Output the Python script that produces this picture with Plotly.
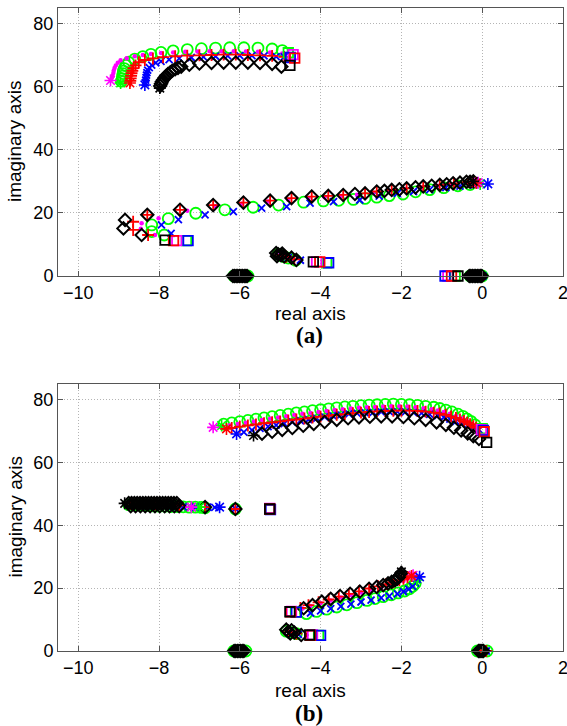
import plotly.graph_objects as go

# ---------------- Panel (a) data ----------------
a_green_x = [-8.93,-8.91,-8.9,-8.89,-8.88,-8.86,-8.82,-8.75,-8.6,-8.4,-8.2,-7.95,-7.65,-7.3,-6.95,-6.6,-6.25,-5.9,-5.55,-5.2,-4.95,
             -0.3,-0.6,-0.95,-1.3,-1.65,-1.96,-2.3,-2.61,-2.9,-3.19,-3.55,-3.93,-4.42,-5.04,-5.67,-6.37,-7.09,-7.77,-8.18,-8.18,-7.87,
             -5.05,-4.98,-4.9,-4.8,-4.62,
             -6.15,-6.0,-5.85,-5.8,-0.3,-0.15,0.0]
a_green_y = [61.8,62.6,63.4,64.2,65.0,65.8,66.8,67.8,68.8,69.6,70.3,70.9,71.4,71.8,72.1,72.3,72.4,72.4,72.3,72.0,71.5,
             29.0,28.6,28.0,27.4,26.7,26.0,25.5,25.0,24.6,24.3,24.0,23.8,23.4,22.5,21.8,21.0,19.9,18.2,16.2,14.1,13.0,
             6.9,6.5,6.1,5.7,5.0,
             0,0,0,0,0,0,0]
a_green_start_x = [-8.95,-0.05]
a_green_start_y = [61.2,29.2]
a_green_end_x = [-4.8,-7.32,-3.85,-0.67]
a_green_end_y = [70.8,11.2,4.2,0]

a_mag_x = [-9.17,-9.15,-9.13,-9.12,-9.1,-9.07,-9.02,-8.95,-8.8,-8.6,-8.4,-8.2,-7.95,-7.65,-7.35,-7.05,-6.75,-6.45,-6.15,-5.85,-5.55,-5.25,-4.95,
           -0.4,-0.75,-1.1,-1.5,-1.9,-2.3,-2.7,-3.1,-3.5,-3.9,-4.3,-4.8,-5.3,-5.95,-6.6,-7.3,-8.01,-8.43,-8.45,-8.1,
           -5.0,-4.9,-4.7,
           -6.1,-5.95,-0.25,-0.05]
a_mag_y = [62.8,63.6,64.4,65.2,66.0,66.8,67.6,68.4,69.1,69.7,70.1,70.4,70.7,70.9,71.1,71.2,71.3,71.3,71.3,71.2,71.1,70.9,70.6,
           29.6,29.1,28.6,28.1,27.6,27.0,26.4,25.8,25.4,25.0,24.7,24.2,23.6,22.9,22.1,20.7,18.3,16.7,15.0,13.0,
           6.8,6.2,5.5,
           0,0,0,0]
a_mag_start_x = [-9.2,-0.1]
a_mag_start_y = [62.0,29.6]
a_mag_end_x = [-4.68,-7.56,-4.1,-0.85]
a_mag_end_y = [70.2,11.2,4.5,0]

a_red_x = [-8.71,-8.7,-8.69,-8.68,-8.66,-8.63,-8.58,-8.5,-8.35,-8.15,-7.9,-7.6,-7.3,-7.0,-6.7,-6.4,-6.1,-5.8,-5.5,-5.2,-4.9,
           -0.35,-0.7,-1.05,-1.46,-1.87,-2.24,-2.61,-2.9,-3.44,-3.81,-4.22,-4.72,-5.25,-5.91,-6.66,-7.48,-8.29,-8.64,-8.64,-8.27,
           -5.0,-4.85,-4.65,
           -6.05,-5.9,-0.2,0.0]
a_red_y = [61.9,62.7,63.5,64.3,65.1,65.9,66.8,67.8,68.5,69.0,69.4,69.7,69.9,70.0,70.1,70.2,70.2,70.1,70.0,69.8,69.5,
           29.8,29.4,28.9,28.4,27.8,27.3,26.8,26.2,25.7,25.4,25.2,24.7,23.9,23.3,22.5,21.0,19.4,17.2,14.6,13.0,
           6.7,6.1,5.3,
           0,0,0,0]
a_red_start_x = [-8.72,-0.15]
a_red_start_y = [61.2,29.5]
a_red_end_x = [-4.64,-7.64,-4.02,-0.76]
a_red_end_y = [69.1,11.2,4.5,0]

a_blue_x = [-8.34,-8.33,-8.32,-8.31,-8.3,-8.28,-8.24,-8.18,-8.08,-7.95,-7.75,-7.5,-7.2,-6.9,-6.6,-6.3,-6.0,-5.7,-5.4,-5.1,-4.9,
            -0.2,-0.55,-0.9,-1.3,-1.7,-2.1,-2.55,-3.03,-3.68,-4.26,-4.84,-5.46,-6.16,-6.86,-7.52,-7.94,-7.7,
            -4.95,-4.8,-4.5,
            -6.1,-5.95,-0.25,0.02]
a_blue_y = [61.3,62.1,62.9,63.7,64.5,65.3,66.1,66.9,67.6,68.1,68.6,69.0,69.3,69.5,69.7,69.8,69.9,69.9,69.8,69.6,69.5,
            28.9,28.5,28.0,27.4,26.8,26.2,25.3,24.1,23.6,23.1,22.0,21.5,20.4,19.4,17.9,16.2,13.5,
            6.5,5.8,5.0,
            0,0,0,0]
a_blue_start_x = [-8.35,0.14]
a_blue_start_y = [60.6,29.2]
a_blue_end_x = [-4.75,-7.28,-3.8,-0.92]
a_blue_end_y = [69.3,11.2,4.2,0]

a_black_x = [-7.97,-7.95,-7.93,-7.9,-7.86,-7.82,-7.78,-7.72,-7.67,-7.6,-7.53,-7.45,-7.25,-7.0,-6.7,-6.4,-6.1,-5.8,-5.5,-5.2,-4.97,
             -0.22,-0.3,-0.39,-0.55,-0.72,-0.88,-1.05,-1.25,-1.46,-1.65,-1.87,-2.05,-2.24,-2.42,-2.61,-2.9,-3.15,-3.44,-3.81,-4.22,-4.72,-5.25,-5.91,-6.66,-7.48,-8.29,-8.84,-8.88,-8.43,
             -5.1,-5.05,-4.98,-5.08,-4.95,-4.9,-4.72,-4.6,
             -6.17,-6.13,-6.09,-6.05,-6.01,-5.97,-5.93,-5.89,-5.85,-5.82,-0.32,-0.28,-0.24,-0.2,-0.16,-0.12,-0.08,-0.04,-0.01]
a_black_y = [60.3,61.0,61.6,62.2,62.9,63.5,64.0,64.6,65.1,65.6,66.0,66.4,67.0,67.4,67.6,67.7,67.7,67.7,67.6,67.3,66.4,
             30.0,29.9,29.9,29.6,29.4,29.1,28.9,28.6,28.4,28.1,27.8,27.5,27.3,27.0,26.8,26.2,26.0,25.7,25.4,25.2,24.7,23.9,23.3,22.5,21.0,19.4,17.8,15.1,13.0,
             7.3,6.9,6.6,6.3,7.1,6.2,5.8,5.1,
             0,0,0,0,0,0,0,0,0,0,0,0,0,0,0,0,0,0,0]
a_black_start_x = [-7.98,-0.22]
a_black_start_y = [59.6,30.0]
a_black_end_x = [-4.76,-7.85,-4.18,-0.6]
a_black_end_y = [66.8,11.4,4.5,0]

# ---------------- Panel (b) data ----------------
b_green_x = [-6.4,-6.2,-6.0,-5.8,-5.6,-5.4,-5.2,-5.0,-4.8,-4.6,-4.4,-4.2,-4.0,-3.8,-3.6,-3.4,-3.2,-3.0,-2.8,-2.6,-2.4,-2.2,-2.0,-1.8,-1.6,-1.4,-1.2,-1.05,-0.9,-0.75,-0.6,-0.48,-0.38,-0.28,-0.18,
             -8.75,-8.6,-8.45,-8.3,-8.15,-8.0,-7.85,-7.7,-7.55,-7.4,-7.25,-7.1,-6.95,-6.86,-6.11,
             -1.66,-1.72,-1.8,-1.92,-2.08,-2.25,-2.45,-2.65,-2.85,-3.1,-3.35,-3.6,-3.85,-4.1,-4.35,
             -4.85,-4.75,-4.6,
             -6.15,-6.0,-5.85,-0.12,0.02,0.12]
b_green_y = [72.2,72.6,73.0,73.4,73.8,74.2,74.6,75.0,75.4,75.8,76.1,76.5,76.8,77.1,77.4,77.7,77.9,78.1,78.3,78.4,78.5,78.6,78.5,78.4,78.2,77.9,77.6,77.2,76.7,76.1,75.4,74.7,73.9,73.1,72.0,
             46.6,46.5,46.4,46.3,46.2,46.1,46.1,46.0,46.0,45.9,45.8,45.8,45.7,45.6,45.2,
             21.5,20.6,19.8,19.1,18.5,17.9,17.3,16.7,16.1,15.4,14.7,14.0,13.3,12.6,11.9,
             6.3,5.9,5.5,
             0,0,0,0,0,0]
b_green_start_x = [-6.45,-7.0,-1.62]
b_green_start_y = [71.8,45.8,22.6]
b_green_end_x = [0.0,-5.26,-4.62,-4.05]
b_green_end_y = [70.8,45.2,12.4,5.0]

b_mag_x = [-6.45,-6.25,-6.05,-5.85,-5.65,-5.45,-5.25,-5.05,-4.85,-4.65,-4.45,-4.25,-4.05,-3.85,-3.65,-3.45,-3.25,-3.05,-2.85,-2.65,-2.45,-2.25,-2.05,-1.85,-1.65,-1.45,-1.25,-1.1,-0.95,-0.8,-0.65,-0.5,-0.38,-0.26,-0.14,
           -8.7,-8.5,-8.3,-8.1,-7.9,-7.7,-7.5,-7.35,-6.11,
           -1.85,-1.95,-2.1,-2.3,-2.5,-2.75,-3.0,-3.25,-3.5,-3.75,-4.0,-4.25,-4.45,
           -4.8,-4.65,
           -6.1,-5.9,-0.08,0.06]
b_mag_y = [71.5,71.9,72.3,72.7,73.1,73.5,73.9,74.3,74.7,75.1,75.5,75.8,76.1,76.4,76.7,77.0,77.2,77.4,77.6,77.7,77.8,77.9,77.9,77.8,77.6,77.3,77.0,76.6,76.1,75.5,74.8,74.0,73.2,72.3,71.5,
           46.8,46.7,46.6,46.5,46.4,46.3,46.1,46.0,45.3,
           23.0,22.3,21.6,20.9,20.2,19.4,18.6,17.8,17.0,16.1,15.2,14.3,13.5,
           6.1,5.6,
           0,0,0,0]
b_mag_start_x = [-6.66,-7.2,-1.71]
b_mag_start_y = [71.2,45.8,24.1]
b_mag_end_x = [-0.02,-5.26,-4.72,-4.2]
b_mag_end_y = [70.5,45.4,12.6,5.1]

b_red_x = [-6.2,-6.0,-5.8,-5.6,-5.4,-5.2,-5.0,-4.8,-4.6,-4.4,-4.2,-4.0,-3.8,-3.6,-3.4,-3.2,-3.0,-2.8,-2.6,-2.4,-2.2,-2.0,-1.8,-1.6,-1.4,-1.2,-1.05,-0.9,-0.77,-0.65,-0.55,-0.45,-0.37,-0.3,-0.22,-0.15,
           -8.7,-8.4,-8.1,-7.8,-7.5,-6.86,-6.11,
           -1.85,-1.95,-2.05,-2.2,-2.38,-2.58,-2.8,-3.05,-3.3,-3.55,-3.8,-4.05,-4.3,-4.5,
           -4.8,-4.6,
           -6.05,-5.95,-0.04,0.1]
b_red_y = [71.0,71.4,71.8,72.1,72.5,72.8,73.1,73.4,73.7,74.0,74.3,74.6,74.9,75.2,75.4,75.7,75.9,76.1,76.3,76.4,76.5,76.5,76.5,76.4,76.2,75.9,75.6,75.2,74.7,74.2,73.7,73.2,72.7,72.2,71.6,71.1,
           46.9,46.8,46.7,46.6,46.4,45.8,45.2,
           23.5,23.0,22.5,21.9,21.3,20.6,19.9,19.0,18.2,17.3,16.4,15.5,14.6,13.7,
           6.0,5.5,
           0,0,0,0]
b_red_start_x = [-6.33,-1.75]
b_red_start_y = [70.7,23.9]
b_red_end_x = [0.05,-5.26,-4.74,-4.25]
b_red_end_y = [69.8,45.2,12.5,5.0]

b_blue_x = [-5.9,-5.7,-5.5,-5.3,-5.1,-4.9,-4.7,-4.5,-4.3,-4.1,-3.9,-3.7,-3.5,-3.3,-3.1,-2.9,-2.7,-2.5,-2.3,-2.1,-1.9,-1.7,-1.5,-1.3,-1.1,-0.95,-0.8,-0.65,-0.5,-0.35,-0.2,-0.08,
            -8.6,-8.3,-8.0,-7.7,-7.4,-7.1,-6.8,-6.62,-6.11,
            -1.6,-1.65,-1.72,-1.82,-1.95,-2.1,-2.3,-2.5,-2.75,-3.0,-3.25,-3.5,-3.75,-4.0,-4.25,
            -4.75,-4.55,
            -6.1,-5.9,-0.1,0.1]
b_blue_y = [69.7,70.3,70.9,71.4,71.9,72.4,72.9,73.3,73.7,74.1,74.5,74.9,75.2,75.5,75.7,75.9,76.0,76.1,76.2,76.2,76.1,75.9,75.7,75.3,74.9,74.4,73.8,73.1,72.4,71.7,71.0,70.5,
            46.5,46.3,46.1,46.0,45.9,45.8,45.8,45.7,45.3,
            22.6,21.6,20.6,19.7,18.9,18.2,17.5,16.9,16.2,15.6,14.9,14.2,13.5,12.8,12.1,
            5.8,5.3,
            0,0,0,0]
b_blue_start_x = [-6.08,-6.5,-1.55]
b_blue_start_y = [69.1,45.8,23.6]
b_blue_end_x = [0.03,-5.24,-4.6,-4.0]
b_blue_end_y = [70.2,45.0,12.4,5.0]

b_black_x = [-5.45,-5.2,-4.95,-4.7,-4.43,-4.17,-3.9,-3.6,-3.32,-3.05,-2.78,-2.5,-2.23,-1.95,-1.68,-1.4,-1.13,-0.9,-0.7,-0.52,-0.36,-0.22,-0.08,
             -8.75,-8.68,-8.61,-8.54,-8.47,-8.4,-8.33,-8.26,-8.19,-8.12,-8.05,-7.98,-7.91,-7.84,-7.77,-7.7,-7.63,-7.56,
             -8.7,-8.58,-8.46,-8.34,-8.22,-8.1,-7.98,-7.86,-7.74,-7.62,-7.5,-6.86,-6.11,
             -2.0,-2.02,-2.06,-2.1,-2.16,-2.24,-2.33,-2.45,-2.61,-2.8,-3.03,-3.27,-3.52,-3.75,-3.97,-4.2,-4.42,
             -4.85,-4.8,-4.75,-4.72,-4.65,-4.48,
             -6.14,-6.1,-6.06,-6.02,-5.98,-5.94,-5.9,-0.09,-0.06,-0.03,0.0,0.03]
b_black_y = [69.2,69.8,70.4,71.0,71.7,72.3,72.9,73.6,74.1,74.4,74.6,74.7,74.7,74.5,74.1,73.6,72.8,72.0,71.1,70.2,69.3,68.4,67.5,
             47.1,47.1,47.1,47.1,47.1,47.1,47.1,47.1,47.1,47.1,47.1,47.1,47.1,47.1,47.1,47.1,47.1,47.1,
             46.1,46.1,46.1,46.1,46.1,46.1,46.1,46.1,46.1,46.1,46.1,45.8,45.2,
             24.8,24.2,23.6,23.0,22.5,22.0,21.5,21.0,20.4,19.8,18.9,18.2,17.5,16.6,15.7,14.6,13.6,
             6.8,6.2,5.6,6.6,5.9,5.1,
             0,0,0,0,0,0,0,0,0,0,0,0]
b_black_start_x = [-5.66,-8.85,-2.0]
b_black_start_y = [68.6,47.0,25.2]
b_black_end_x = [0.11,-5.26,-4.76,-4.27]
b_black_end_y = [66.4,45.2,12.5,5.1]

x_ticks = [-10, -8, -6, -4, -2, 0, 2]
y_ticks = [0, 20, 40, 60, 80]
x_range = [-10.5, 2.0]
y_range = [0, 85]
x_title = "real axis"
y_title = "imaginary axis"
panel_labels = ["(a)", "(b)"]

# ---------------- styling ----------------
W, H = 567, 726
L, R, T, B = 58, 4, 8, 75
plot_h = H - T - B

def py2paper(py):
    return (H - B - py) / plot_h

def px2paper(px):
    return (px - L) / (W - L - R)

series_style = {
    "green": dict(color="#00ff00", symbol="circle-open", size=11, lw=1.8),
    "mag": dict(color="#ff00ff", symbol="circle", size=4.5, lw=0),
    "blue": dict(color="#0000ff", symbol="x-thin-open", size=7, lw=1.8),
    "red": dict(color="#ff0000", symbol="cross-thin-open", size=8.5, lw=1.8),
    "black": dict(color="#000000", symbol="diamond-open", size=9.5, lw=2),
}

panels = {
    "a": {
        "green": (a_green_x, a_green_y, a_green_start_x, a_green_start_y, a_green_end_x, a_green_end_y),
        "mag": (a_mag_x, a_mag_y, a_mag_start_x, a_mag_start_y, a_mag_end_x, a_mag_end_y),
        "blue": (a_blue_x, a_blue_y, a_blue_start_x, a_blue_start_y, a_blue_end_x, a_blue_end_y),
        "red": (a_red_x, a_red_y, a_red_start_x, a_red_start_y, a_red_end_x, a_red_end_y),
        "black": (a_black_x, a_black_y, a_black_start_x, a_black_start_y, a_black_end_x, a_black_end_y),
    },
    "b": {
        "green": (b_green_x, b_green_y, b_green_start_x, b_green_start_y, b_green_end_x, b_green_end_y),
        "mag": (b_mag_x, b_mag_y, b_mag_start_x, b_mag_start_y, b_mag_end_x, b_mag_end_y),
        "blue": (b_blue_x, b_blue_y, b_blue_start_x, b_blue_start_y, b_blue_end_x, b_blue_end_y),
        "red": (b_red_x, b_red_y, b_red_start_x, b_red_start_y, b_red_end_x, b_red_end_y),
        "black": (b_black_x, b_black_y, b_black_start_x, b_black_start_y, b_black_end_x, b_black_end_y),
    },
}

fig = go.Figure()
axis_ids = {"a": ("x", "y"), "b": ("x2", "y2")}
order = ["green", "mag", "blue", "red", "black"]
for pk, pdata in panels.items():
    xa, ya = axis_ids[pk]
    for name in order:
        xs, ys, sx, sy, ex, ey = pdata[name]
        st = series_style[name]
        fig.add_trace(go.Scatter(x=xs, y=ys, mode="markers", xaxis=xa, yaxis=ya, cliponaxis=False,
                                 marker=dict(symbol=st["symbol"], size=st["size"], color=st["color"],
                                             line=dict(color=st["color"], width=st["lw"])),
                                 showlegend=False, hoverinfo="skip"))
    for name in order:
        xs, ys, sx, sy, ex, ey = pdata[name]
        st = series_style[name]
        fig.add_trace(go.Scatter(x=sx, y=sy, mode="markers", xaxis=xa, yaxis=ya, cliponaxis=False,
                                 marker=dict(symbol="asterisk-open", size=10, color=st["color"],
                                             line=dict(color=st["color"], width=1.6)),
                                 showlegend=False, hoverinfo="skip"))
        fig.add_trace(go.Scatter(x=ex, y=ey, mode="markers", xaxis=xa, yaxis=ya, cliponaxis=False,
                                 marker=dict(symbol="square-open", size=9.5, color=st["color"],
                                             line=dict(color=st["color"], width=1.8)),
                                 showlegend=False, hoverinfo="skip"))

tick_font = dict(family="Liberation Sans, Arial, sans-serif", size=18, color="black")
ax_common = dict(showgrid=True, gridcolor="#b4b4b4", griddash="1px,2px", gridwidth=1,
                 showline=True, linecolor="#555555", linewidth=1, mirror="ticks",
                 ticks="inside", ticklen=5, tickcolor="#555555", tickfont=tick_font,
                 ticklabeloverflow="allow", automargin=False, zeroline=False, fixedrange=True)

top_a = 1.0
bot_a = py2paper(276)
top_b = py2paper(384)
fig.update_layout(
    width=W, height=H, margin=dict(l=L, r=R, t=T, b=B, autoexpand=False),
    paper_bgcolor="white", plot_bgcolor="white",
    xaxis=dict(domain=[0, 1], range=x_range, tickvals=x_ticks, anchor="y", **ax_common),
    yaxis=dict(domain=[bot_a, top_a], range=y_range, tickvals=y_ticks, anchor="x", **ax_common),
    xaxis2=dict(domain=[0, 1], range=x_range, tickvals=x_ticks, anchor="y2", **ax_common),
    yaxis2=dict(domain=[0, top_b], range=y_range, tickvals=y_ticks, anchor="x2", **ax_common),
)

title_font = dict(family="Liberation Sans, Arial, sans-serif", size=19, color="black")
label_font = dict(family="Liberation Serif, Times New Roman, serif", size=23, color="black")
ann = []
for (ycen, yreal, ylab, lab) in [(142, 313, 335, panel_labels[0]), (517.5, 690, 713, panel_labels[1])]:
    ann.append(dict(text=y_title, xref="paper", yref="paper", x=px2paper(15), y=py2paper(ycen),
                    showarrow=False, textangle=-90, font=title_font, xanchor="center", yanchor="middle"))
    ann.append(dict(text=x_title, xref="paper", yref="paper", x=px2paper(310), y=py2paper(yreal),
                    showarrow=False, font=title_font, xanchor="center", yanchor="middle"))
    ann.append(dict(text="<b>" + lab + "</b>", xref="paper", yref="paper", x=px2paper(309), y=py2paper(ylab),
                    showarrow=False, font=label_font, xanchor="center", yanchor="middle"))
fig.update_layout(annotations=ann)

fig.write_html("out.html")
